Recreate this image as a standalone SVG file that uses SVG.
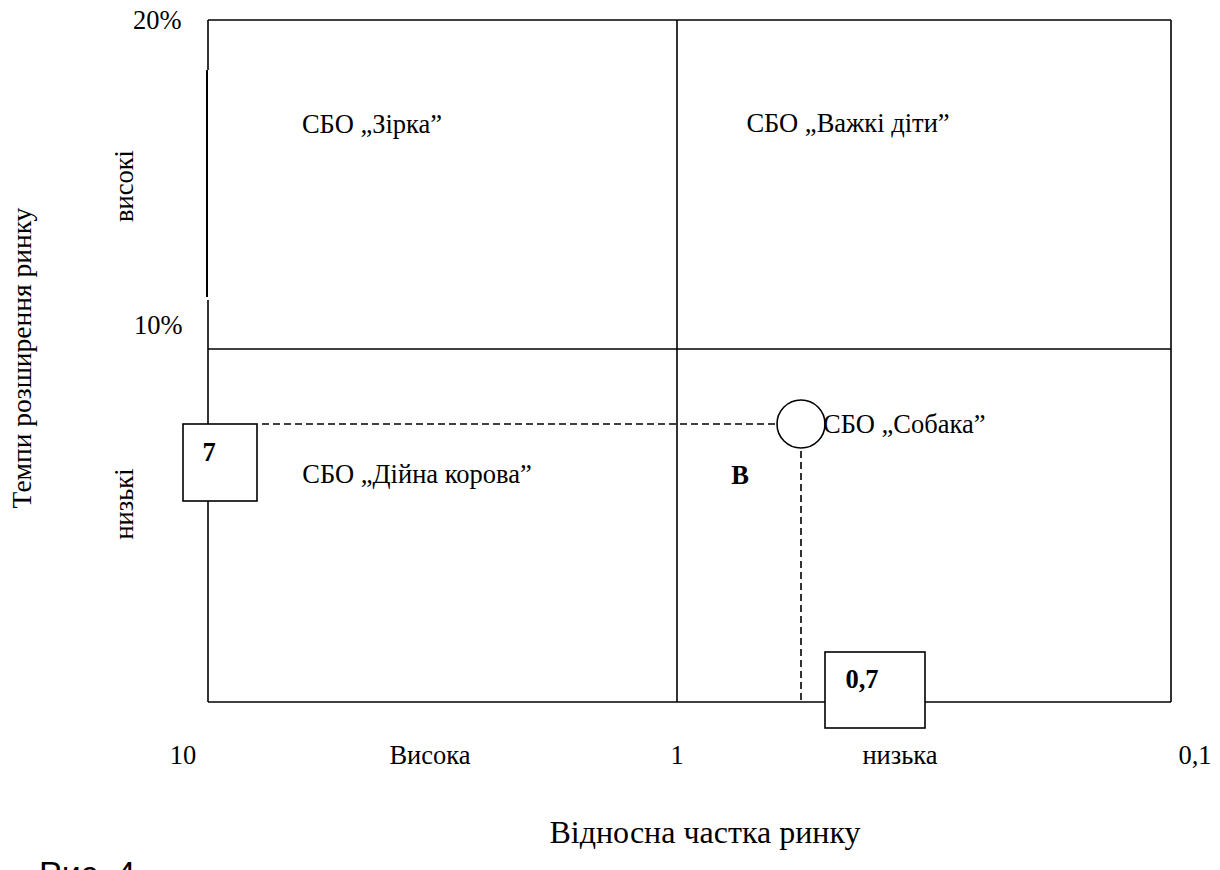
<svg xmlns="http://www.w3.org/2000/svg" width="1220" height="870" viewBox="0 0 1220 870">
<style>
.t{font-family:"Liberation Serif","Times New Roman",serif;font-size:26.5px;fill:#000}
.b{font-weight:bold}
.ln{stroke:#000;stroke-width:1.6;fill:none}
.ds{stroke:#000;stroke-width:1.6;fill:none;stroke-dasharray:7 4}
.bx{stroke:#000;stroke-width:1.6;fill:#fff}
</style>
<rect width="1220" height="870" fill="#fff"/>
<g id="frame">
<line class="ln" x1="208" y1="20" x2="1171" y2="20"/>
<line class="ln" x1="1171" y1="20" x2="1171" y2="702"/>
<line class="ln" x1="208" y1="702" x2="1171" y2="702"/>
<line class="ln" x1="677" y1="20" x2="677" y2="702"/>
<line class="ln" x1="208" y1="349" x2="1171" y2="349"/>
<line class="ln" x1="208" y1="20" x2="208" y2="70"/>
<line class="ln" x1="207" y1="70" x2="207" y2="297" style="stroke-width:2"/>
<line class="ln" x1="208" y1="300" x2="208" y2="702"/>
</g>
<g id="connectors">
<line class="ds" x1="262" y1="424" x2="777" y2="424"/>
<line class="ds" x1="801" y1="451" x2="801" y2="701"/>
</g>
<g id="node-7">
<rect class="bx" x="183" y="424" width="74" height="77"/>
<text class="t b" x="209" y="461" text-anchor="middle">7</text>
</g>
<g id="node-07">
<rect class="bx" x="825" y="652" width="100" height="76"/>
<text class="t b" x="862" y="688" text-anchor="middle">0,7</text>
</g>
<g id="node-dog">
<circle class="bx" cx="801" cy="424" r="24"/>
<text class="t" x="823" y="433">СБО „Собака”</text>
</g>
<g id="labels">
<text class="t" x="133" y="29">20%</text>
<text class="t" x="134" y="334">10%</text>
<text class="t" x="372" y="133" text-anchor="middle">СБО „Зірка”</text>
<text class="t" x="848" y="132" text-anchor="middle">СБО „Важкі діти”</text>
<text class="t" x="417" y="483" text-anchor="middle">СБО „Дійна корова”</text>
<text class="t b" x="740" y="484" text-anchor="middle">В</text>
<text class="t" x="183" y="764" text-anchor="middle">10</text>
<text class="t" x="430" y="764" text-anchor="middle">Висока</text>
<text class="t" x="677" y="764" text-anchor="middle">1</text>
<text class="t" x="900" y="764" text-anchor="middle">низька</text>
<text class="t" x="1195" y="764" text-anchor="middle">0,1</text>
<text class="t" x="705" y="843" text-anchor="middle" style="font-size:32px">Відносна частка ринку</text>
<text class="t" transform="translate(133 186) rotate(-90)" text-anchor="middle">високі</text>
<text class="t" transform="translate(133 504) rotate(-90)" text-anchor="middle">низькі</text>
<text class="t" transform="translate(31 358) rotate(-90)" text-anchor="middle" style="font-size:27.5px">Темпи розширення ринку</text>
<text x="39" y="885" style="font-family:'Liberation Sans',Arial,sans-serif;font-size:34px">Рис. 4</text>
</g>
</svg>
